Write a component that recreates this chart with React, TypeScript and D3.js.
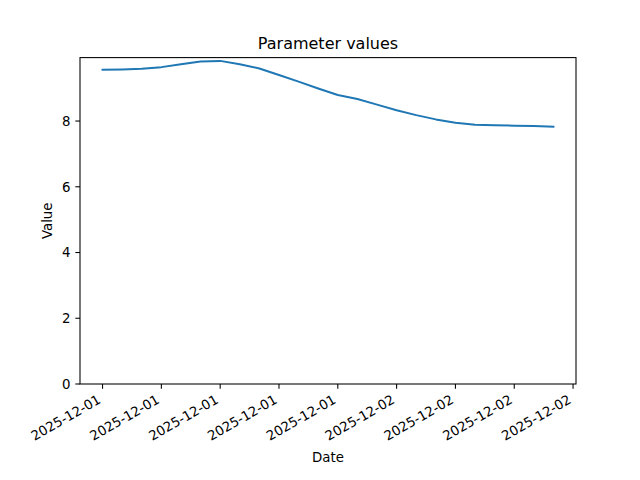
import { useEffect, useRef } from "react";
import * as d3 from "d3";

// hourly readings, local time
const times = [
  "2025-12-01T09:00", "2025-12-01T10:00", "2025-12-01T11:00", "2025-12-01T12:00",
  "2025-12-01T13:00", "2025-12-01T14:00", "2025-12-01T15:00", "2025-12-01T16:00",
  "2025-12-01T17:00", "2025-12-01T18:00", "2025-12-01T19:00", "2025-12-01T20:00",
  "2025-12-01T21:00", "2025-12-01T22:00", "2025-12-01T23:00", "2025-12-02T00:00",
  "2025-12-02T01:00", "2025-12-02T02:00", "2025-12-02T03:00", "2025-12-02T04:00",
  "2025-12-02T05:00", "2025-12-02T06:00", "2025-12-02T07:00", "2025-12-02T08:00",
];
const values = [
  9.56, 9.57, 9.59, 9.64, 9.73, 9.81, 9.83, 9.73, 9.6, 9.4, 9.2, 8.99,
  8.79, 8.67, 8.5, 8.33, 8.18, 8.05, 7.95, 7.89, 7.87, 7.86, 7.85, 7.83,
];
const xTicks = [
  "2025-12-01T09:00", "2025-12-01T12:00", "2025-12-01T15:00", "2025-12-01T18:00",
  "2025-12-01T21:00", "2025-12-02T00:00", "2025-12-02T03:00", "2025-12-02T06:00",
  "2025-12-02T09:00",
];
const yTicks = [0, 2, 4, 6, 8];

interface IPoint {
  date: Date;
  value: number;
}

const App = () => {
  const ref = useRef<SVGSVGElement>(null);

  useEffect(() => {
    const width = 640;
    const height = 480;
    const m = { left: 80, right: 576, top: 57.6, bottom: 384 };
    const font = "DejaVu Sans, sans-serif";

    const data: IPoint[] = times.map((t, i) => ({ date: new Date(t), value: values[i] }));

    const [t0, t1] = d3.extent(data, (d) => d.date) as [Date, Date];
    const pad = (t1.getTime() - t0.getTime()) * 0.05;
    const xScale = d3
      .scaleTime()
      .domain([new Date(t0.getTime() - pad), new Date(t1.getTime() + pad)])
      .range([m.left, m.right]);

    const vMin = d3.min(values) as number;
    const vMax = d3.max(values) as number;
    const yScale = d3
      .scaleLinear()
      .domain([0, vMax + (vMax - vMin) * 0.05])
      .range([m.bottom, m.top]);

    const svg = d3.select(ref.current);
    svg.selectAll("*").remove();
    svg.attr("width", width).attr("height", height);
    svg.append("rect").attr("width", width).attr("height", height).attr("fill", "white");

    const fmt = d3.timeFormat("%Y-%m-%d");

    // x axis
    const xAxis = svg.append("g").attr("font-family", font).attr("font-size", 13.33);
    xTicks.forEach((t) => {
      const d = new Date(t);
      const x = xScale(d);
      xAxis
        .append("line")
        .attr("x1", x)
        .attr("x2", x)
        .attr("y1", m.bottom)
        .attr("y2", m.bottom + 4.67)
        .attr("stroke", "black")
        .attr("stroke-width", 1.07);
      xAxis
        .append("text")
        .attr("transform", `translate(${x - 6},${m.bottom + 9.5}) rotate(-30)`)
        .attr("text-anchor", "end")
        .attr("dy", "0.76em")
        .attr("fill", "black")
        .text(fmt(d));
    });

    // y axis
    const yAxis = svg.append("g").attr("font-family", font).attr("font-size", 13.33);
    yTicks.forEach((v) => {
      const y = yScale(v);
      yAxis
        .append("line")
        .attr("x1", m.left - 4.67)
        .attr("x2", m.left)
        .attr("y1", y)
        .attr("y2", y)
        .attr("stroke", "black")
        .attr("stroke-width", 1.07);
      yAxis
        .append("text")
        .attr("x", m.left - 9.5)
        .attr("y", y)
        .attr("dy", "0.36em")
        .attr("text-anchor", "end")
        .attr("fill", "black")
        .text(v);
    });

    const line = d3
      .line<IPoint>()
      .x((d) => xScale(d.date))
      .y((d) => yScale(d.value));

    svg
      .append("path")
      .datum(data)
      .attr("fill", "none")
      .attr("stroke", "#1f77b4")
      .attr("stroke-width", 2)
      .attr("stroke-linejoin", "round")
      .attr("stroke-linecap", "square")
      .attr("d", line);

    // spines
    svg
      .append("rect")
      .attr("x", m.left)
      .attr("y", m.top)
      .attr("width", m.right - m.left)
      .attr("height", m.bottom - m.top)
      .attr("fill", "none")
      .attr("stroke", "black")
      .attr("stroke-width", 1.07);

    svg
      .append("text")
      .attr("x", (m.left + m.right) / 2)
      .attr("y", m.top - 9)
      .attr("text-anchor", "middle")
      .attr("font-family", font)
      .attr("font-size", 16)
      .text("Parameter values");

    svg
      .append("text")
      .attr("x", (m.left + m.right) / 2)
      .attr("y", 462)
      .attr("text-anchor", "middle")
      .attr("font-family", font)
      .attr("font-size", 13.33)
      .text("Date");

    svg
      .append("text")
      .attr("transform", `translate(52,${(m.top + m.bottom) / 2}) rotate(-90)`)
      .attr("text-anchor", "middle")
      .attr("font-family", font)
      .attr("font-size", 13.33)
      .text("Value");
  });

  return <svg ref={ref} style={{ position: "absolute", left: 0, top: 0 }} />;
};

export default App;
